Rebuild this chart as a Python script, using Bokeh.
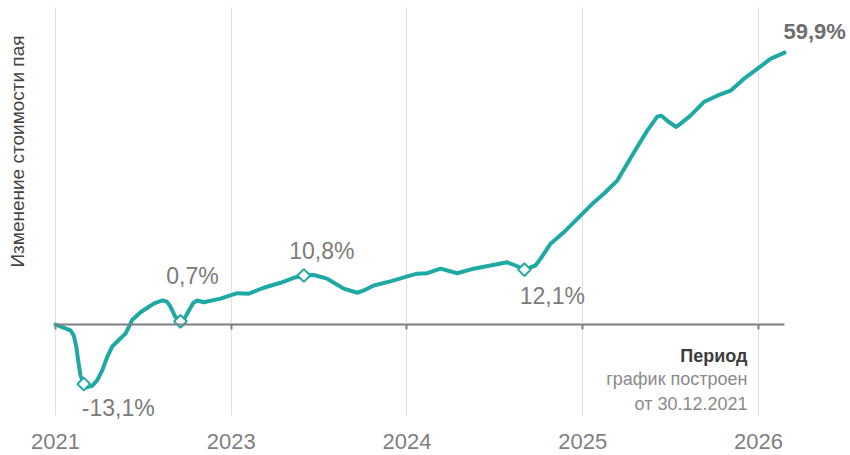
import math
from bokeh.plotting import figure
from bokeh.models import Range1d, FixedTicker, LinearAxis, Grid, Title, ColumnDataSource
from bokeh.core.properties import value
from bokeh.embed import file_html
from bokeh.resources import INLINE

# ---- data ----
tick_pos = [0, 1, 2, 3, 4]
tick_labels = ["2021", "2023", "2024", "2025", "2026"]

period_x = [0.0, 0.028, 0.085, 0.104, 0.119, 0.129, 0.142, 0.161, 0.180, 0.209, 0.237, 0.266,
            0.294, 0.323, 0.360, 0.398, 0.417, 0.436, 0.484,
            0.559, 0.607, 0.632, 0.650, 0.664, 0.683, 0.711, 0.734, 0.759, 0.783, 0.806, 0.844,
            0.939, 1.034, 1.100, 1.185, 1.280, 1.356, 1.413, 1.470, 1.546, 1.640, 1.717, 1.754,
            1.811, 1.906, 2.001, 2.058, 2.115, 2.191, 2.286, 2.380, 2.475, 2.570, 2.617, 2.668,
            2.731, 2.760, 2.817, 2.892, 3.006, 3.063, 3.120, 3.196, 3.253, 3.310, 3.367, 3.424,
            3.448, 3.490, 3.533, 3.613, 3.689, 3.765, 3.841, 3.916, 3.993, 4.068, 4.148]
change_pct = [0.0, -0.4, -1.3, -2.4, -5.0, -7.9, -11.2, -13.1, -13.8, -13.5, -12.3, -10.1,
              -7.2, -4.8, -3.4, -2.0, -0.6, 1.0, 2.7,
              4.6, 5.3, 5.1, 4.2, 3.1, 1.6, 0.7, 1.3, 3.1, 4.7, 5.3, 4.9,
              5.7, 6.9, 6.8, 8.1, 9.2, 10.3, 10.8, 10.9, 10.1, 7.9, 7.0, 7.5,
              8.6, 9.5, 10.6, 11.2, 11.3, 12.3, 11.3, 12.3, 13.0, 13.7, 13.0, 12.1,
              13.0, 14.5, 17.8, 20.3, 24.7, 26.9, 28.8, 31.7, 35.4, 39.1, 42.7, 45.8,
              46.0, 44.6, 43.5, 46.0, 49.0, 50.4, 51.5, 54.1, 56.3, 58.5, 59.9]

key_x = [0.161, 0.711, 1.413, 2.668]
key_y = [-13.1, 0.7, 10.8, 12.1]
key_text = ["-13,1%", "0,7%", "10,8%", "12,1%"]
final_text = "59,9%"

y_title = "Изменение стоимости пая"
period_title = "Период"
period_note = ["график построен", "от 30.12.2021"]

# visible value window of the chart area
grid_bottom, grid_top = -20, 69.8

TEAL = "#1ea9a5"
GRAY_TXT = "#7b7b7b"
FONT = "Liberation Sans"

p = figure(width=850, height=455,
           x_range=Range1d(-0.1422, 4.5235), y_range=Range1d(-28.85, 71.37),
           x_axis_location=None, y_axis_location=None,
           output_backend="svg", toolbar_location=None,
           min_border_left=30, min_border_right=0, min_border_top=0, min_border_bottom=0)
p.outline_line_color = None
p.background_fill_color = "white"
p.border_fill_color = "white"
p.center = []  # drop default grids

grid = Grid(dimension=0, ticker=FixedTicker(ticks=tick_pos), grid_line_color="#e0e0e0",
            grid_line_width=1, cross_bounds=(grid_bottom, grid_top))
p.add_layout(grid)

zero_axis = LinearAxis(fixed_location=0, ticker=FixedTicker(ticks=tick_pos),
                       bounds=(period_x[0], period_x[-1]),
                       axis_line_color="#7f7f7f", axis_line_width=2,
                       major_tick_line_color="#7f7f7f", major_tick_line_width=2,
                       major_tick_in=0, major_tick_out=5,
                       minor_tick_line_color=None, major_label_text_color=None)
p.add_layout(zero_axis, "below")

year_axis = LinearAxis(fixed_location=grid_bottom, ticker=FixedTicker(ticks=tick_pos),
                       major_label_overrides={t: l for t, l in zip(tick_pos, tick_labels)},
                       axis_line_color=None, major_tick_line_color=None, minor_tick_line_color=None,
                       major_label_standoff=13, major_label_text_font_size="22px",
                       major_label_text_color="#7f7f7f", major_label_text_font=FONT)
p.add_layout(year_axis, "below")

p.add_layout(Title(text=y_title, align="right", offset=35, standoff=5, text_font=FONT,
                   text_font_size="19px", text_font_style="normal", text_color="#444444"), "left")

src = ColumnDataSource(dict(x=period_x, y=change_pct))
p.line("x", "y", source=src, line_color=TEAL, line_width=4, line_join="round", line_cap="round")

p.scatter(key_x, key_y, marker="square", angle=math.pi / 4, size=9,
          fill_color="white", line_color=TEAL, line_width=2)

# point labels
label_style = [("left", -2, 24), ("center", 12, -45), ("center", 18, -24), ("center", 28, 26)]
for i, (al, dx, dy) in enumerate(label_style):
    p.text(x=[key_x[i]], y=[key_y[i]], text=[key_text[i]], text_font=value(FONT),
           text_font_size="23px", text_color=GRAY_TXT, text_align=al,
           text_baseline="middle", x_offset=dx, y_offset=dy)

p.text(x=[period_x[-1]], y=[change_pct[-1]], text=[final_text], text_font=value(FONT),
       text_font_size="22px", text_font_style="bold", text_color="#6e6e6e",
       text_align="left", text_baseline="middle", x_offset=-1, y_offset=-21)

# period annotation
p.text(x=[tick_pos[-1]], y=[0], text=[period_title], text_font=value(FONT),
       text_font_size="18px", text_font_style="bold", text_color="#3c3c3c",
       text_align="right", text_baseline="middle", x_offset=-11, y_offset=31)
p.text(x=[tick_pos[-1]] * 2, y=[0, 0], text=period_note, text_font=value(FONT),
       text_font_size="18px", text_color="#8a8a8a",
       text_align="right", text_baseline="middle", x_offset=-11, y_offset=[54, 79])

open("out.html", "w").write(file_html(p, INLINE))
